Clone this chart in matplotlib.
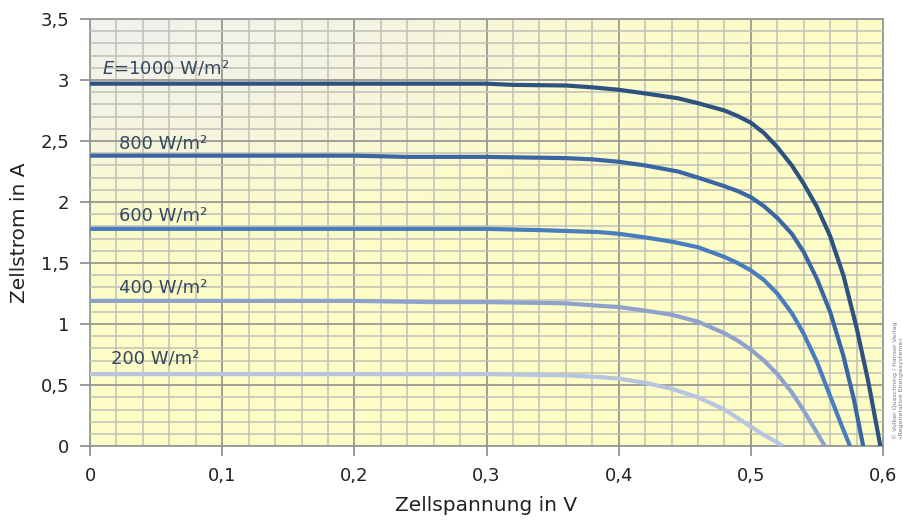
import matplotlib
matplotlib.use("Agg")
import matplotlib.pyplot as plt
import numpy as np
from matplotlib.colors import LinearSegmentedColormap
from matplotlib.ticker import MultipleLocator, FuncFormatter

u_1000 = [0, 0.1, 0.2, 0.3, 0.32, 0.36, 0.38, 0.4, 0.42, 0.445, 0.46, 0.48, 0.49, 0.5,
          0.51, 0.52, 0.531, 0.54, 0.55, 0.56, 0.57, 0.58, 0.589, 0.598]
i_1000 = [2.97, 2.97, 2.97, 2.97, 2.96, 2.955, 2.94, 2.92, 2.89, 2.85, 2.81, 2.75, 2.705, 2.65,
          2.565, 2.45, 2.30, 2.15, 1.96, 1.72, 1.40, 0.97, 0.52, 0.0]

u_800 = [0, 0.1, 0.2, 0.24, 0.3, 0.36, 0.38, 0.4, 0.42, 0.445, 0.46, 0.48, 0.49, 0.5,
         0.51, 0.52, 0.531, 0.54, 0.55, 0.56, 0.57, 0.578, 0.585]
i_800 = [2.38, 2.38, 2.38, 2.37, 2.37, 2.36, 2.35, 2.33, 2.30, 2.25, 2.20, 2.13, 2.09, 2.04,
         1.965, 1.87, 1.74, 1.59, 1.37, 1.10, 0.74, 0.38, 0.0]

u_600 = [0, 0.1, 0.2, 0.3, 0.34, 0.385, 0.4, 0.42, 0.44, 0.46, 0.48, 0.49, 0.5,
         0.51, 0.52, 0.531, 0.54, 0.55, 0.56, 0.569, 0.575]
i_600 = [1.78, 1.78, 1.78, 1.78, 1.77, 1.754, 1.74, 1.71, 1.676, 1.63, 1.55, 1.50, 1.44,
         1.36, 1.25, 1.09, 0.92, 0.69, 0.41, 0.16, 0.0]

u_400 = [0, 0.1, 0.2, 0.26, 0.3, 0.36, 0.385, 0.4, 0.42, 0.44, 0.46, 0.48, 0.49, 0.5,
         0.51, 0.52, 0.531, 0.54, 0.55, 0.556]
i_400 = [1.19, 1.19, 1.19, 1.18, 1.18, 1.17, 1.15, 1.14, 1.11, 1.077, 1.02, 0.925, 0.865, 0.79,
         0.70, 0.59, 0.44, 0.29, 0.11, 0.0]

u_200 = [0, 0.1, 0.2, 0.3, 0.36, 0.385, 0.4, 0.42, 0.44, 0.46, 0.48, 0.49, 0.5, 0.51, 0.52, 0.524]
i_200 = [0.59, 0.59, 0.59, 0.59, 0.58, 0.566, 0.553, 0.519, 0.47, 0.40, 0.30, 0.23, 0.16,
         0.09, 0.03, 0.0]

labels = ["$E$=1000 W/m²", "800 W/m²", "600 W/m²", "400 W/m²", "200 W/m²"]
colors = ["#2d527f", "#3a67a3", "#4a7dbd", "#8ea2cc", "#b8c5e0"]

fig = plt.figure(figsize=(9.04, 5.23), dpi=100)
ax = fig.add_axes([0.0996, 0.147, 0.8772, 0.8167])

# Hintergrund: Verlauf grau (oben links) -> gelb
xx, yy = np.meshgrid(np.linspace(0, 1, 300), np.linspace(0, 1, 300))
t = np.clip(np.sqrt((xx * 1.0) ** 2 + ((1 - yy) * 1.5) ** 2), 0, 1)
cmap = LinearSegmentedColormap.from_list(
    "bg", [(0, "#f1f1ef"), (0.35, "#f4f4e2"), (0.7, "#fbfbcc"), (1, "#fdfdc6")])
ax.imshow(t, extent=[0, 0.6, 0, 3.5], origin="lower", aspect="auto", cmap=cmap, zorder=0)

ax.set_xlim(0, 0.6)
ax.set_ylim(0, 3.5)
ax.xaxis.set_major_locator(MultipleLocator(0.1))
ax.xaxis.set_minor_locator(MultipleLocator(0.02))
ax.yaxis.set_major_locator(MultipleLocator(0.5))
ax.yaxis.set_minor_locator(MultipleLocator(0.1))
ax.grid(which="minor", color="#c0c0b8", lw=1.1, zorder=1)
ax.grid(which="major", color="#999994", lw=1.3, zorder=1)
ax.set_axisbelow(False)

comma = FuncFormatter(lambda v, p: ("%g" % round(v, 2)).replace(".", ","))
ax.xaxis.set_major_formatter(comma)
ax.yaxis.set_major_formatter(comma)
ax.tick_params(which="major", length=7, width=1.2, color="#8a8a8a", labelsize=13,
               labelcolor="#222222", pad=8)
ax.tick_params(which="minor", length=0)
for s in ax.spines.values():
    s.set_color("#999994")
    s.set_linewidth(1.3)

series = [(u_1000, i_1000), (u_800, i_800), (u_600, i_600), (u_400, i_400), (u_200, i_200)]
for (u, i), c in zip(series, colors):
    ax.plot(u, i, color=c, lw=3.0, solid_capstyle="butt", solid_joinstyle="round", zorder=3)

label_pos = [(0.009, 3.10), (0.022, 2.48), (0.022, 1.89), (0.022, 1.30), (0.016, 0.72)]
for (lx, ly), txt in zip(label_pos, labels):
    ax.text(lx, ly, txt, fontsize=13, color="#34485e", va="center", ha="left", zorder=4)

ax.set_xlabel("Zellspannung in V", fontsize=14.5, color="#222222", labelpad=8)
ax.set_ylabel("Zellstrom in A", fontsize=14.5, color="#222222", labelpad=8)

fig.text(0.9905, 0.16, "© Volker Quaschning / Hanser Verlag", rotation=90, fontsize=4.5,
         color="#777777", ha="center", va="bottom")
fig.text(0.997, 0.16, "»Regenerative Energiesysteme«", rotation=90, fontsize=4.5,
         color="#777777", ha="center", va="bottom")

fig.savefig("out.png", dpi=100)
